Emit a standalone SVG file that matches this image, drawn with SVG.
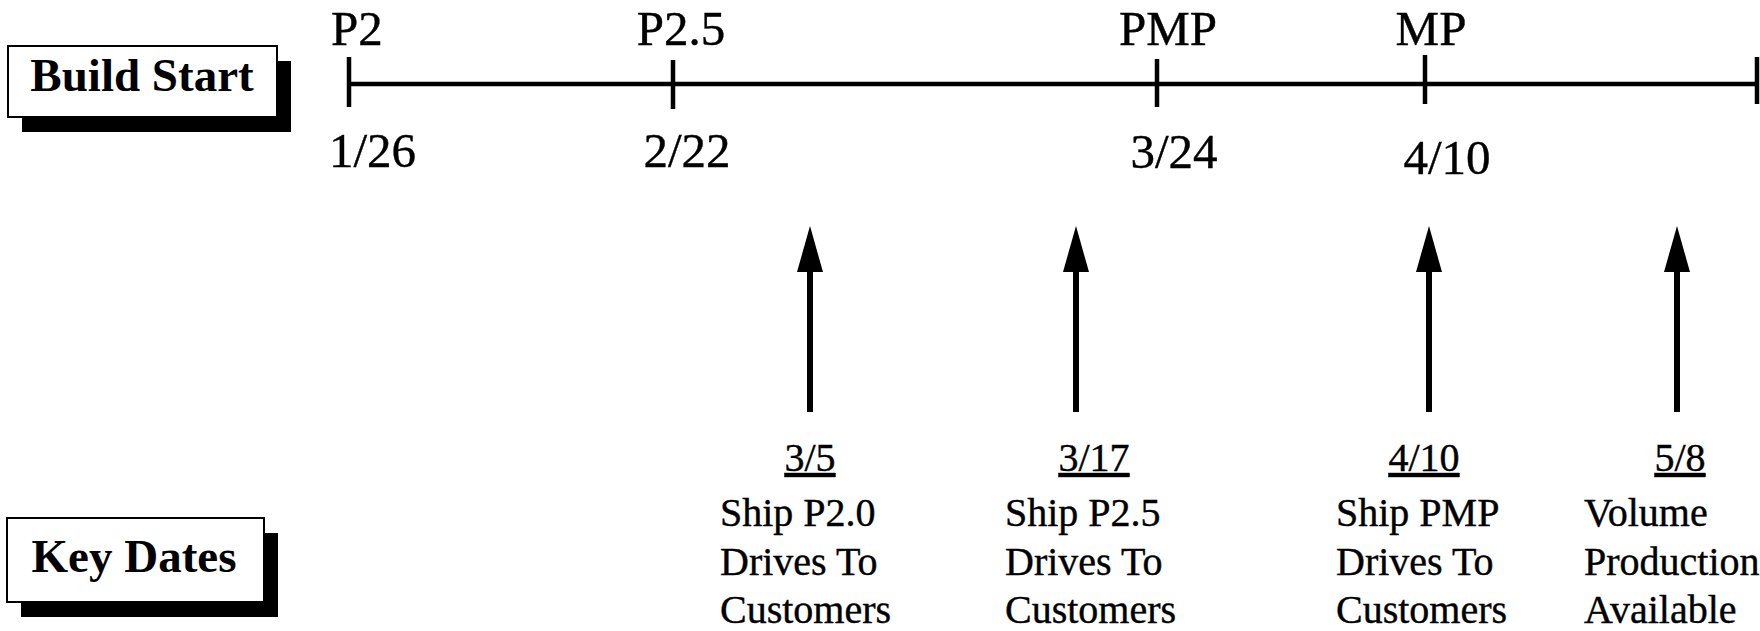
<svg xmlns="http://www.w3.org/2000/svg" width="1760" height="631" viewBox="0 0 1760 631">
<defs>
<style>
.box{fill:#fff;stroke:#000;stroke-width:2}
.shadow{fill:#000}
.title{font-family:"Liberation Serif",serif;font-weight:bold;font-size:47px;fill:#000;text-anchor:middle}
.lbl{font-family:"Liberation Serif",serif;font-size:49px;fill:#000;stroke:#000;stroke-width:0.4}
.mid{text-anchor:middle}
.txt{font-family:"Liberation Serif",serif;font-size:40px;fill:#000;stroke:#000;stroke-width:0.4}
.axis{stroke:#000;stroke-width:4.5;fill:none}
.shaft{stroke:#000;stroke-width:6;fill:none}
.head{fill:#000}
</style>
</defs>
<rect width="1760" height="631" fill="#fff"/>
<g id="build-start">
<rect class="shadow" x="22" y="61" width="269" height="71"/>
<rect class="box" x="8" y="46" width="269" height="71"/>
<text class="title" x="142" y="91">Build Start</text>
</g>
<g id="key-dates">
<rect class="shadow" x="21" y="533" width="257" height="84"/>
<rect class="box" x="7" y="518" width="257" height="84"/>
<text class="title" x="134" y="572">Key Dates</text>
</g>
<g id="timeline">
<line class="axis" x1="349" y1="84" x2="1757" y2="84"/>
<line class="axis" x1="349" y1="57" x2="349" y2="107"/>
<line class="axis" x1="673" y1="60" x2="673" y2="109"/>
<line class="axis" x1="1157" y1="59" x2="1157" y2="107"/>
<line class="axis" x1="1425" y1="55" x2="1425" y2="104"/>
<line class="axis" x1="1757" y1="57" x2="1757" y2="104"/>
</g>
<g id="milestone-p2">
<text class="lbl" x="331" y="45">P2</text>
<text class="lbl" x="329" y="167">1/26</text>
</g>
<g id="milestone-p25">
<text class="lbl mid" x="681" y="45">P2.5</text>
<text class="lbl mid" x="687" y="167">2/22</text>
</g>
<g id="milestone-pmp">
<text class="lbl mid" x="1168" y="45">PMP</text>
<text class="lbl mid" x="1174" y="168">3/24</text>
</g>
<g id="milestone-mp">
<text class="lbl mid" x="1431" y="45">MP</text>
<text class="lbl mid" x="1447" y="174">4/10</text>
</g>
<g id="connectors">
<line class="shaft" x1="810" y1="268" x2="810" y2="412"/>
<polygon class="head" points="810,226 797,272 823,272"/>
<line class="shaft" x1="1076" y1="268" x2="1076" y2="412"/>
<polygon class="head" points="1076,226 1063,272 1089,272"/>
<line class="shaft" x1="1429" y1="268" x2="1429" y2="412"/>
<polygon class="head" points="1429,226 1416,272 1442,272"/>
<line class="shaft" x1="1677" y1="268" x2="1677" y2="412"/>
<polygon class="head" points="1677,226 1664,272 1690,272"/>
</g>
<g id="key-date-1">
<text class="txt mid" x="810" y="471" text-decoration="underline">3/5</text>
<text class="txt" x="720" y="526">Ship P2.0</text>
<text class="txt" x="720" y="575">Drives To</text>
<text class="txt" x="720" y="623">Customers</text>
</g>
<g id="key-date-2">
<text class="txt mid" x="1094" y="471" text-decoration="underline">3/17</text>
<text class="txt" x="1005" y="526">Ship P2.5</text>
<text class="txt" x="1005" y="575">Drives To</text>
<text class="txt" x="1005" y="623">Customers</text>
</g>
<g id="key-date-3">
<text class="txt mid" x="1424" y="471" text-decoration="underline">4/10</text>
<text class="txt" x="1336" y="526">Ship PMP</text>
<text class="txt" x="1336" y="575">Drives To</text>
<text class="txt" x="1336" y="623">Customers</text>
</g>
<g id="key-date-4">
<text class="txt mid" x="1680" y="471" text-decoration="underline">5/8</text>
<text class="txt" x="1584" y="526">Volume</text>
<text class="txt" x="1584" y="575">Production</text>
<text class="txt" x="1584" y="623">Available</text>
</g>
</svg>
